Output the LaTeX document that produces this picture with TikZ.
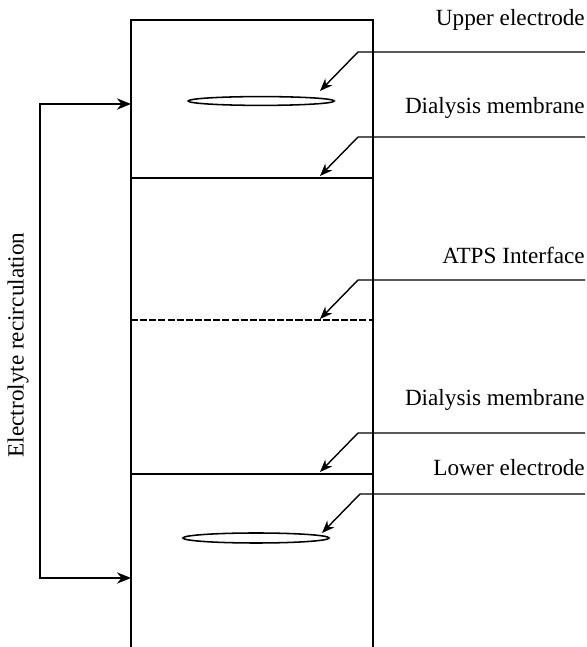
\documentclass[tikz,border=0pt]{standalone}
\usepackage{fontspec}
\setmainfont{Liberation Serif}
\usepackage{tikz}
\usetikzlibrary{shapes.geometric, arrows.meta, positioning, calc}

\begin{document}
\begin{tikzpicture}[
  wall/.style={line width=1.3pt},
  layer/.style={line width=1.1pt},
  electrode/.style={draw, ellipse, line width=1.1pt, inner sep=0pt},
  leader/.style={line width=1pt, -{Stealth[length=9pt, width=7pt]}},
  flow/.style={line width=1pt, -{Stealth[length=10pt, width=8pt]}},
  tag/.style={anchor=east, inner sep=0pt, font=\fontsize{16.5}{20}\selectfont}
]
  \useasboundingbox (0, 0) rectangle (14.675, 16.175);

  % Cell
  \coordinate (topL) at (3.275, 15.675);
  \coordinate (topR) at (9.325, 15.675);
  \coordinate (botL) at (3.275, 0);
  \coordinate (botR) at (9.325, 0);
  \draw[wall] (botL) -- (topL) -- (topR) -- (botR);

  % Layers
  \draw[layer] (3.275, 11.725) coordinate (memUL) -- (9.325, 11.725) coordinate (memUR);
  \draw[layer, dash pattern=on 5pt off 1.5pt] (3.275, 8.175) coordinate (atpsL) -- (9.325, 8.175) coordinate (atpsR);
  \draw[layer] (3.275, 4.325) coordinate (memLL) -- (9.325, 4.325) coordinate (memLR);

  % Electrodes
  \node[electrode, minimum width=3.65cm, minimum height=0.22cm] (upperEl) at (6.53, 13.65) {};
  \node[electrode, minimum width=3.65cm, minimum height=0.25cm] (lowerEl) at (6.4, 2.725) {};

  % Labels
  \node[tag] (lblUpper) at (14.625, 15.675) {Upper electrode};
  \node[tag] (lblMemU) at (14.625, 13.475) {Dialysis membrane};
  \node[tag] (lblATPS) at (14.625, 9.8) {ATPS Interface};
  \node[tag] (lblMemL) at (14.625, 6.175) {Dialysis membrane};
  \node[tag] (lblLower) at (14.625, 4.475) {Lower electrode};

  % Leaders
  \draw[leader] (14.625, 14.875) -- (8.95, 14.875) -- (8.0, 13.9);
  \draw[leader] (14.625, 12.75) -- (8.95, 12.75) -- (8.0, 11.775);
  \draw[leader] (14.625, 9.175) -- (8.95, 9.175) -- (8.0, 8.2);
  \draw[leader] (14.625, 5.35) -- (8.95, 5.35) -- (8.0, 4.375);
  \draw[leader] (14.625, 3.825) -- (9.0, 3.825) -- (8.05, 2.85);

  % Recirculation
  \coordinate (inTop) at (3.275, 13.575);
  \coordinate (inBot) at (3.275, 1.725);
  \draw[flow] (1.0, 7.55) |- (inTop);
  \draw[flow] (1.0, 7.55) |- (inBot);
  \node[tag, anchor=center, rotate=90] (lblFlow) at (0.45, 7.55) {Electrolyte recirculation};
\end{tikzpicture}
\end{document}
